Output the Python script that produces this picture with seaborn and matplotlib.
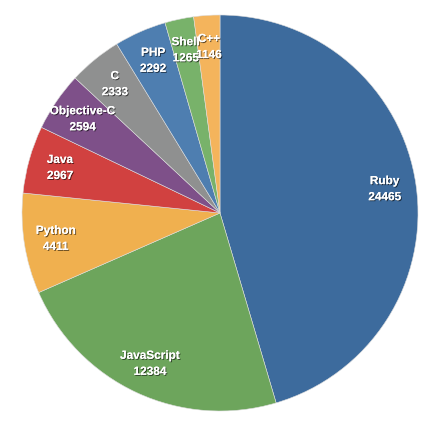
import matplotlib
matplotlib.use("Agg")
import matplotlib.pyplot as plt
import matplotlib.patheffects as pe
import seaborn as sns

# data (clockwise from 12 o'clock)
languages = ["Ruby", "JavaScript", "Python", "Java", "Objective-C", "C", "PHP", "Shell", "C++"]
repos = [24465, 12384, 4411, 2967, 2594, 2333, 2292, 1265, 1146]
colors = ["#3d6b9d", "#6da55c", "#f0b04f", "#d14140", "#7e5089", "#8f9090",
          "#4e7eb0", "#78b26a", "#f4b45c"]

sns.set_style("white")
plt.rcParams["font.family"] = ["Liberation Sans", "DejaVu Sans"]
palette = sns.color_palette(colors)

fig = plt.figure(figsize=(4.4, 4.26), dpi=100)
ax = fig.add_axes([22 / 440, 15 / 426, 396 / 440, 396 / 426])

labels = [f"{l}\n{v}" for l, v in zip(languages, repos)]
wedges, texts = ax.pie(repos, labels=labels, colors=palette, startangle=90,
                       counterclock=False, labeldistance=0.84,
                       wedgeprops=dict(linewidth=0.4, edgecolor="#dddddd"),
                       textprops=dict(color="white", fontsize=8.5, fontweight="bold",
                                      ha="center", va="center", linespacing=1.45))
for t in texts:
    t.set_horizontalalignment("center")
    t.set_path_effects([pe.withSimplePatchShadow(offset=(0.7, -0.7), shadow_rgbFace="black", alpha=0.6),
                        pe.Normal()])

ax.set_xlim(-1, 1)
ax.set_ylim(-1, 1)
ax.set_aspect("equal")
ax.axis("off")

fig.savefig("out.png", dpi=100)
